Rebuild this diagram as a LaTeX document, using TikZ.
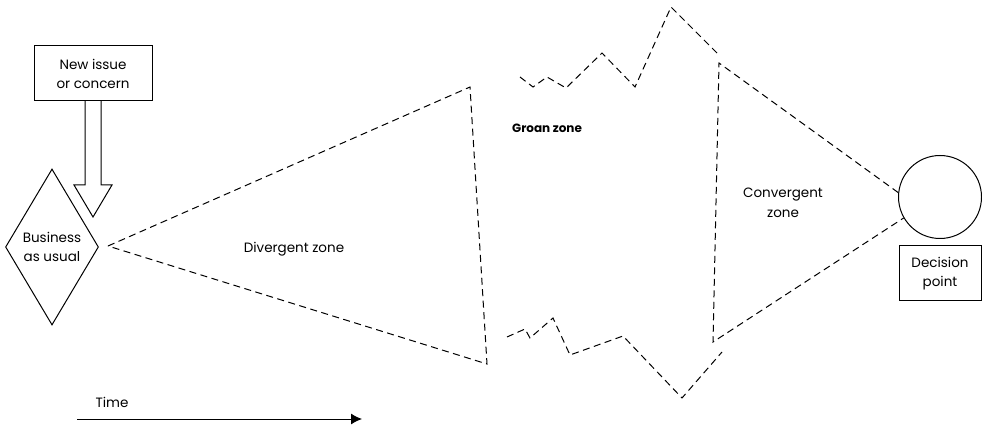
\documentclass[tikz,border=0pt]{standalone}
\usepackage{fontspec}
\setmainfont{Poppins}
\usetikzlibrary{shapes.geometric,arrows.meta}

\begin{document}
\begin{tikzpicture}[x=1pt, y=-1pt,
    box/.style={draw, rectangle, line width=1pt, minimum width=118pt,
                minimum height=55pt, inner sep=0pt, align=center,
                font=\fontsize{13.5}{19}\selectfont},
    usual/.style={draw, diamond, line width=1pt, aspect=0.6, minimum width=93pt,
                  minimum height=156pt, inner sep=0pt, align=center,
                  font=\fontsize{13.5}{19}\selectfont},
    zonetext/.style={align=center, font=\fontsize{13.5}{19.5}\selectfont},
    zone/.style={line width=1pt, dash pattern=on 7pt off 4.5pt}
]
    \useasboundingbox (0,0) rectangle (982,427);

    \node[box] (issue) at (93,73.5) {New issue\\or concern};
    \node[usual] (bau) at (52,247) {Business\\as usual};
    \node[draw, circle, line width=1pt, minimum size=83pt, inner sep=0pt] (dp) at (940,197) {};
    \node[box, minimum width=82pt] (dplabel) at (940,273.5) {Decision\\point};

    % block arrow into business as usual
    \draw[line width=1pt] (85,101) -- (85,185) -- (74,185) -- (93,217)
        -- (112,185) -- (101,185) -- (101,101);

    % divergent zone
    \coordinate (dapex) at (108,246);
    \coordinate (dtop) at (470,87);
    \coordinate (dbot) at (487,364);
    \draw[zone] (dapex) -- (dtop) -- (dbot) -- cycle;

    % groan zone
    \draw[zone] (520,77) -- (533,87) -- (547,77) -- (566,88) -- (602,53)
        -- (635,87) -- (671,7) -- (717,53);
    \draw[zone] (507,337) -- (525,329) -- (530,338) -- (553,318) -- (570,355)
        -- (623,336) -- (682,398) -- (722,352);

    % convergent zone
    \coordinate (ctop) at (719,63);
    \coordinate (cbot) at (713,342);
    \draw[zone] (dp.174) -- (ctop) -- (cbot) -- (dp.210);

    \node[zonetext] (div) at (294,249) {Divergent zone};
    \node[zonetext, font=\fontsize{12}{19}\selectfont\bfseries] (groan) at (547,128) {Groan zone};
    \node[zonetext] (conv) at (783,203) {Convergent\\zone};

    % time axis
    \node[zonetext] (time) at (112,402) {Time};
    \coordinate (tstart) at (77,419);
    \coordinate (tend) at (362,419);
    \draw[line width=1pt, -{Latex[length=11pt, width=11pt]}] (tstart) -- (tend);
\end{tikzpicture}
\end{document}
